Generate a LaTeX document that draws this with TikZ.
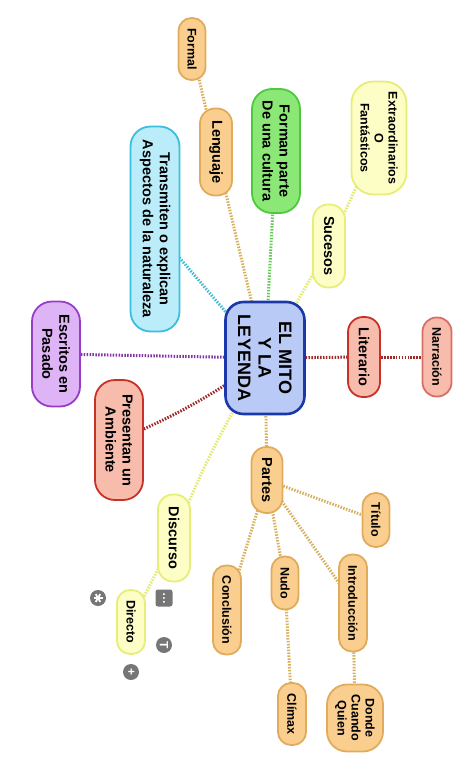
\documentclass[tikz,border=0pt]{standalone}
\usepackage{fontspec}
\setmainfont{Liberation Sans}
\usetikzlibrary{backgrounds}

\definecolor{tanF}{RGB}{249,206,142}
\definecolor{tanD}{RGB}{224,172,92}
\definecolor{grnF}{RGB}{140,232,118}
\definecolor{grnD}{RGB}{78,200,62}
\definecolor{ylwF}{RGB}{253,253,198}
\definecolor{ylwD}{RGB}{230,238,120}
\definecolor{cynF}{RGB}{186,236,250}
\definecolor{cynD}{RGB}{60,190,222}
\definecolor{purF}{RGB}{222,180,246}
\definecolor{purD}{RGB}{150,62,200}
\definecolor{salF}{RGB}{247,188,172}
\definecolor{salD}{RGB}{200,48,40}
\definecolor{bluF}{RGB}{186,202,246}
\definecolor{bluD}{RGB}{26,56,170}
\definecolor{lnkTan}{RGB}{214,176,92}
\definecolor{lnkGrn}{RGB}{96,204,80}
\definecolor{lnkYlw}{RGB}{226,234,112}
\definecolor{lnkCyn}{RGB}{70,186,212}
\definecolor{lnkPur}{RGB}{130,50,162}
\definecolor{lnkRed}{RGB}{160,42,42}
\definecolor{icoG}{RGB}{118,118,118}

\begin{document}
\begin{tikzpicture}[x=1pt,y=-1pt,
  bub/.style 2 args={draw=#2,fill=#1,line width=1.8pt,rotate=-90,inner sep=0pt,align=center,
    font=\bfseries\fontsize{14.5}{17}\selectfont},
  sm/.style={font=\bfseries\fontsize{12.5}{14}\selectfont},
  sz/.style n args={3}{minimum width=#2pt,minimum height=#1pt,rounded corners=#3pt},
  lnk/.style={line width=3pt,dash pattern=on 1.5pt off 1.4pt},
  ico/.style={fill=icoG,text=white,inner sep=0pt,minimum size=16pt,rotate=-90,
    font=\bfseries\fontsize{12}{12}\selectfont}]
  \useasboundingbox (0,0) rectangle (474,771);
  % centre
  \node[bub={bluF}{bluD},line width=2.6pt,sz={79}{112}{18},font=\bfseries\fontsize{18}{20.5}\selectfont]
    (mito) at (265,358) {EL MITO\\Y LA\\LEYENDA};
  % upper branches
  \node[bub={tanF}{tanD},sm,sz={27}{62}{13}] (formal) at (192,49) {Formal};
  \node[bub={tanF}{tanD},sz={32}{87}{15}] (lenguaje) at (216,152) {Lenguaje};
  \node[bub={grnF}{grnD},sz={48}{124}{20}] (forman) at (276,151) {Forman parte\\De una cultura};
  \node[bub={ylwF}{ylwD},sm,sz={55}{113}{22}] (extra) at (379,138) {Extraordinarios\\O\\Fant\'asticos};
  \node[bub={ylwF}{ylwD},sz={32}{83}{15}] (sucesos) at (329,246) {Sucesos};
  \node[bub={cynF}{cynD},sz={49}{205}{20}] (transmiten) at (155,229) {Transmiten o explican\\Aspectos de la naturaleza};
  % left and right
  \node[bub={purF}{purD},sz={48}{105}{20}] (escritos) at (56,354) {Escritos en\\Pasado};
  \node[bub={salF}{salD},sz={48}{120}{20}] (presentan) at (119,440) {Presentan un\\Ambiente};
  \node[bub={salF}{salD},sz={32}{80}{15}] (literario) at (364,357) {Literario};
  \node[bub={salF}{salD!70!white},sm,sz={29}{79}{14}] (narracion) at (437,357) {Narraci\'on};
  % lower branches
  \node[bub={tanF}{tanD},sz={31}{66}{15}] (partes) at (267,480) {Partes};
  \node[bub={tanF}{tanD},sm,sz={27}{54}{13}] (titulo) at (376,520) {T\'itulo};
  \node[bub={ylwF}{ylwD},sz={32}{87}{15}] (discurso) at (174,538) {Discurso};
  \node[bub={ylwF}{ylwD},sm,sz={28}{64}{13}] (directo) at (131,622) {Directo};
  \node[bub={tanF}{tanD},sm,sz={28}{89}{13}] (conclusion) at (227,610) {Conclusi\'on};
  \node[bub={tanF}{tanD},sm,sz={27}{53}{13}] (nudo) at (285,583) {Nudo};
  \node[bub={tanF}{tanD},sm,sz={28}{97}{13}] (intro) at (353,603) {Introducci\'on};
  \node[bub={tanF}{tanD},sm,sz={28}{62}{13}] (climax) at (292,714) {Cl\'imax};
  \node[bub={tanF}{tanD},sm,sz={56}{67}{20}] (donde) at (355,718) {Donde\\Cuando\\Quien};
  % editor icons
  \node[ico,circle] (ast) at (98,598) {};
  \foreach \a in {0,60,120}
    \draw[white,line width=1.8pt] ([shift={(\a:4.5)}]ast.center) -- ([shift={(\a+180:4.5)}]ast.center);
  \node[ico,rounded corners=2.5pt,minimum size=17pt] (menu) at (164,598) {\ldots};
  \node[ico,circle] (txt) at (164,645) {T};
  \node[ico,circle] (plus) at (131,672) {+};
  % connectors
  \begin{scope}[on background layer]
    \draw[lnk,lnkTan] (mito.center) -- (lenguaje.center);
    \draw[lnk,lnkTan] (lenguaje.center) -- (formal.center);
    \draw[lnk,lnkGrn] (mito.center) -- (forman.center);
    \draw[lnk,lnkYlw] (mito.center) -- (sucesos.center);
    \draw[lnk,lnkYlw] (sucesos.center) -- (extra.center);
    \draw[lnk,lnkCyn] (mito.center) -- (transmiten.center);
    \draw[lnk,lnkPur] (mito.center) -- (escritos.center);
    \draw[lnk,lnkRed] (mito.center) to[bend left=6] (presentan.center);
    \draw[lnk,lnkRed] (mito.center) -- (literario.center);
    \draw[lnk,lnkRed] (literario.center) -- (narracion.center);
    \draw[lnk,lnkTan] (mito.center) -- (partes.center);
    \draw[lnk,lnkYlw] (mito.center) to[bend right=5] (discurso.center);
    \draw[lnk,lnkYlw] (discurso.center) -- (directo.center);
    \foreach \n in {titulo,conclusion,nudo,intro}
      \draw[lnk,lnkTan] (partes.center) -- (\n.center);
    \draw[lnk,lnkTan] (nudo.center) -- (climax.center);
    \draw[lnk,lnkTan] (intro.center) -- (donde.center);
  \end{scope}
\end{tikzpicture}
\end{document}
